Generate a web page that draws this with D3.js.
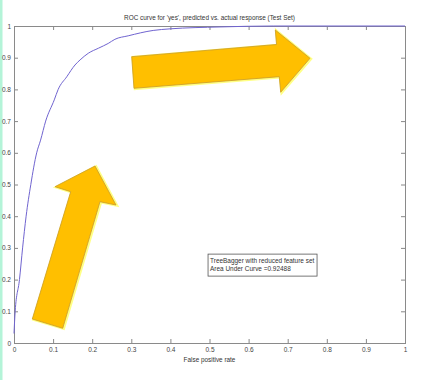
<!DOCTYPE html>
<html>
<head>
<meta charset="utf-8">
<script src="https://cdn.jsdelivr.net/npm/d3@7"></script>
<style>
  html, body { margin: 0; padding: 0; background: #fff; }
  #svg-container { width: 443px; height: 380px; position: relative; }
  svg { display: block; font-family: "Liberation Sans", Arial, sans-serif; }
  .tick text { fill: #444; font-size: 6.5px; }
  .tick line { stroke: #888; }
</style>
</head>
<body>
<div id="svg-container"></div>
<script>
// ROC curve values
const fpr = [0, 0.003, 0.014, 0.022, 0.031, 0.043, 0.058, 0.068, 0.081, 0.103, 0.113, 0.135,
  0.156, 0.169, 0.19, 0.216, 0.241, 0.258, 0.292, 0.356, 0.399, 0.527, 0.663, 1];
const tpr = [0.03, 0.1, 0.2, 0.3, 0.4, 0.5, 0.6, 0.64, 0.7, 0.767, 0.8, 0.84,
  0.877, 0.893, 0.914, 0.93, 0.945, 0.958, 0.969, 0.986, 0.991, 0.997, 1, 1];

const ticks = [0, 0.1, 0.2, 0.3, 0.4, 0.5, 0.6, 0.7, 0.8, 0.9, 1];
const tickLabels = ["0", "0.1", "0.2", "0.3", "0.4", "0.5", "0.6", "0.7", "0.8", "0.9", "1"];

const titleText = "ROC curve for 'yes', predicted vs. actual response (Test Set)";
const xLabelText = "False positive rate";
const legendLines = ["TreeBagger with reduced feature set", "Area Under Curve =0.92488"];

// the two yellow arrows (annotation), in data units
const arrowUp = [[0.0468, 0.0757], [0.1246, 0.0464], [0.2199, 0.4457], [0.2609, 0.4353],
  [0.2072, 0.5584], [0.1049, 0.4931], [0.1450, 0.4773]];
const arrowRight = [[0.3010, 0.9032], [0.3069, 0.8035], [0.6785, 0.8401], [0.6821, 0.7909],
  [0.7570, 0.8981], [0.6683, 0.9874], [0.6714, 0.9416]];

////////////////////////////  Init  ///////////////////////////////
const width = 443, height = 380;
const margin = { top: 26, right: 38, bottom: 37, left: 14 };

const svg = d3.select("#svg-container").append("svg")
  .attr("width", width).attr("height", height);

// mint stripe on the left edge
svg.append("rect").attr("x", 0).attr("y", 0).attr("width", 2.5).attr("height", height)
  .attr("fill", "#b4f4d8");

const xScale = d3.scaleLinear().domain([0, 1]).range([margin.left, width - margin.right]);
const yScale = d3.scaleLinear().domain([0, 1]).range([height - margin.bottom, margin.top]);

const fmt = (d) => tickLabels[ticks.indexOf(d)];

// axes, MATLAB style: ticks pointing inwards on all four sides
svg.append("g")
  .attr("transform", `translate(0,${yScale(0)})`)
  .call(d3.axisBottom(xScale).tickValues(ticks).tickFormat(fmt).tickSizeInner(-4).tickSizeOuter(0).tickPadding(4))
  .call((g) => g.select(".domain").remove());

svg.append("g")
  .attr("transform", `translate(${xScale(0)},0)`)
  .call(d3.axisLeft(yScale).tickValues(ticks).tickFormat(fmt).tickSizeInner(-4).tickSizeOuter(0).tickPadding(3))
  .call((g) => g.select(".domain").remove());

svg.append("g")
  .attr("transform", `translate(0,${yScale(1)})`)
  .call(d3.axisTop(xScale).tickValues(ticks).tickFormat("").tickSizeInner(-4).tickSizeOuter(0))
  .call((g) => g.select(".domain").remove());

svg.append("g")
  .attr("transform", `translate(${xScale(1)},0)`)
  .call(d3.axisRight(yScale).tickValues(ticks).tickFormat("").tickSizeInner(-4).tickSizeOuter(0))
  .call((g) => g.select(".domain").remove());

// box
svg.append("rect")
  .attr("x", xScale(0) + 0.5).attr("y", yScale(1) + 0.5)
  .attr("width", xScale(1) - xScale(0)).attr("height", yScale(0) - yScale(1))
  .attr("fill", "none").attr("stroke", "#8a8a8a").attr("stroke-width", 1);

// curve
const pts = fpr.map((d, i) => [d, tpr[i]]);
const line = d3.line().x((d) => xScale(d[0])).y((d) => yScale(d[1])).curve(d3.curveMonotoneX);
svg.append("path").datum(pts)
  .attr("fill", "none").attr("stroke", "#7064d0").attr("stroke-width", 1)
  .attr("d", line);

// arrows
const poly = d3.line().x((d) => xScale(d[0])).y((d) => yScale(d[1])).curve(d3.curveLinearClosed);
[arrowUp, arrowRight].forEach((a) => {
  svg.append("path").datum(a)
    .attr("fill", "none").attr("stroke", "#ffff66").attr("stroke-width", 2.5)
    .attr("transform", "translate(1,0.5)").attr("d", poly).style("opacity", 0.8);
  svg.append("path").datum(a)
    .attr("fill", "#ffbf00").attr("stroke", "#c99a2a").attr("stroke-width", 0.8)
    .attr("d", poly);
});

// title & label
svg.append("text").attr("x", (xScale(0) + xScale(1)) / 2).attr("y", 20)
  .attr("text-anchor", "middle").attr("font-size", 6.4).attr("fill", "#333").text(titleText);
svg.append("text").attr("x", (xScale(0) + xScale(1)) / 2).attr("y", 362)
  .attr("text-anchor", "middle").attr("font-size", 6.4).attr("fill", "#333").text(xLabelText);

// legend box
const lg = svg.append("g").attr("transform", `translate(${xScale(0.495)},${yScale(0.282)})`);
lg.append("rect").attr("x", 0.5).attr("y", 0.5).attr("width", 109).attr("height", 22)
  .attr("fill", "#fff").attr("stroke", "#555").attr("stroke-width", 0.8);
legendLines.forEach((t, i) => {
  lg.append("text").attr("x", 2.5).attr("y", 9 + i * 8).attr("font-size", 6.45)
    .attr("fill", "#333").text(t);
});
</script>
</body>
</html>
